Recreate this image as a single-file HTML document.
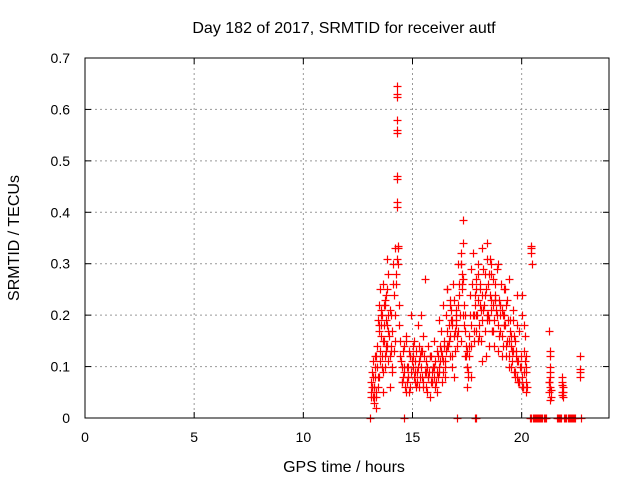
<!DOCTYPE html>
<html><head><meta charset="utf-8"><style>
body{margin:0;background:#fff}
svg{display:block;font-family:"Liberation Sans",sans-serif}
</style></head><body>
<svg id="chart" width="640" height="480"></svg>
<script>
const xTicks=[0,5,10,15,20];
const yTicks=[0,0.1,0.2,0.3,0.4,0.5,0.6,0.7];
const yTickLabels=["0","0.1","0.2","0.3","0.4","0.5","0.6","0.7"];
const hours=[
13.10,13.12,13.15,13.18,13.2,13.22,13.25,13.28,13.3,13.32,13.35,13.38,13.4,13.42,13.45,13.48,13.5,13.52,13.55,13.58,13.6,13.62,13.65,13.68,13.7,13.72,13.75,13.78,13.8,13.82,13.85,13.88,13.9,13.95,14.0,14.05,14.1,14.15,14.2,
14.27,14.27,14.28,14.28,14.27,14.28,14.29,14.3,14.28,14.27,14.35,14.34,14.3,14.32,14.25,14.22,14.38,14.4,14.42,14.45,14.5,14.55,14.6,14.65,14.7,14.75,14.8,14.85,14.9,14.95,
15.0,15.05,15.1,15.15,15.2,15.25,15.3,15.35,15.4,15.45,15.5,15.55,15.6,15.65,15.7,15.75,15.8,15.85,15.9,15.95,16.0,16.05,16.1,16.15,16.2,16.25,16.3,16.35,16.4,16.45,16.5,16.55,16.6,16.65,16.7,
16.75,16.8,16.85,16.9,16.95,17.0,17.05,17.1,17.15,17.2,17.25,17.3,17.32,17.35,17.4,17.45,17.5,17.55,17.6,17.65,17.7,17.75,17.8,17.85,17.9,17.95,18.0,18.05,18.1,18.15,18.2,18.25,18.3,18.35,18.4,18.45,18.5,18.55,18.6,18.65,18.7,18.75,18.8,18.85,18.9,18.95,19.0,19.05,19.1,19.15,19.2,19.25,19.3,19.35,19.4,19.45,19.5,19.55,19.6,19.65,19.7,19.75,19.8,19.85,19.9,19.95,20.0,20.05,20.1,20.15,20.2,
13.15,13.25,13.35,13.45,13.55,13.65,13.75,13.85,13.95,14.05,14.15,14.5,14.6,14.7,14.8,14.9,15.0,15.1,15.2,15.3,15.4,15.5,15.6,15.7,15.8,15.9,16.0,16.1,16.2,16.3,16.4,16.5,16.6,16.7,16.8,16.9,17.0,17.1,17.2,17.3,17.4,17.5,17.6,17.7,17.8,17.9,18.0,18.1,18.2,18.3,18.4,18.5,18.6,18.7,18.8,18.9,19.0,19.1,19.2,19.3,19.4,19.5,19.6,19.7,19.8,19.9,20.0,20.1,20.2,
16.6,16.7,16.8,17.0,17.2,17.25,17.3,17.4,17.5,17.7,17.9,18.0,18.2,18.4,18.5,18.6,18.8,19.0,19.2,19.4,19.6,19.8,20.0,20.1,20.2,14.0,13.9,13.8,13.7,13.6,
13.12,13.17,13.22,13.27,13.33,13.37,13.43,13.47,13.53,13.57,13.63,13.67,13.73,13.77,13.83,13.87,13.93,13.97,14.03,14.08,14.12,14.18,14.23,14.48,14.53,14.58,14.63,14.68,14.73,14.78,14.83,14.88,14.93,14.98,
15.03,15.08,15.13,15.18,15.23,15.28,15.33,15.38,15.43,15.48,15.53,15.58,15.63,15.68,15.73,15.78,15.83,15.88,15.93,15.98,16.03,16.08,16.13,16.18,16.23,16.28,16.33,16.38,16.43,16.48,16.53,16.58,16.63,16.68,
16.73,16.78,16.83,16.88,16.93,16.98,17.03,17.08,17.13,17.18,17.23,17.28,17.38,17.43,17.48,17.53,17.58,17.63,17.68,17.73,17.78,17.83,17.88,17.93,17.98,18.03,18.08,18.13,18.18,18.23,18.28,18.33,18.38,18.43,18.48,18.53,18.58,18.63,18.68,18.73,18.78,18.83,18.88,18.93,18.98,
19.03,19.08,19.13,19.18,19.23,19.28,19.33,19.38,19.43,19.48,19.53,19.58,19.63,19.68,19.73,19.78,19.83,19.88,19.93,19.98,20.03,20.08,20.13,20.18,20.22,20.25,
20.45,20.45,20.47,20.45,21.25,21.3,21.28,21.32,21.3,21.25,21.35,21.3,21.27,21.85,21.87,21.88,21.9,21.86,22.65,22.67,22.66,22.65,21.28,21.33,21.26,21.31,21.84,21.89,21.87,
13.07,14.59,17.06,17.87,17.92,20.4,20.45,20.5,20.55,20.6,20.65,20.7,20.75,20.8,20.85,20.9,20.95,21.0,21.05,21.1,21.6,21.65,21.7,21.75,21.8,21.95,22.0,22.05,22.1,22.15,22.2,22.25,22.3,22.35,22.4,22.45,22.7];
const tecu=[
0.07,0.05,0.09,0.04,0.11,0.06,0.03,0.08,0.12,0.05,0.02,0.1,0.19,0.06,0.18,0.22,0.13,0.25,0.16,0.21,0.12,0.1,0.26,0.15,0.18,0.12,0.22,0.19,0.14,0.25,0.31,0.17,0.28,0.12,0.2,0.1,0.3,0.24,0.33,
0.645,0.63,0.625,0.58,0.56,0.555,0.47,0.465,0.42,0.41,0.335,0.33,0.31,0.3,0.26,0.2,0.22,0.18,0.15,0.12,0.1,0.08,0.14,0.06,0.16,0.1,0.08,0.05,0.12,0.2,
0.1,0.15,0.07,0.13,0.09,0.18,0.06,0.12,0.2,0.08,0.16,0.27,0.11,0.05,0.14,0.09,0.04,0.12,0.07,0.1,0.15,0.06,0.13,0.08,0.19,0.11,0.17,0.07,0.22,0.14,0.1,0.2,0.25,0.15,0.23,
0.19,0.12,0.26,0.08,0.17,0.21,0.14,0.3,0.24,0.32,0.28,0.385,0.34,0.22,0.2,0.12,0.06,0.09,0.16,0.24,0.18,0.32,0.15,0.22,0.27,0.2,0.3,0.18,0.25,0.15,0.33,0.21,0.28,0.12,0.34,0.26,0.19,0.31,0.23,0.17,0.27,0.14,0.24,0.2,0.3,0.16,0.22,0.26,0.12,0.2,0.18,0.25,0.14,0.23,0.1,0.19,0.16,0.13,0.21,0.09,0.15,0.12,0.24,0.07,0.17,0.1,0.2,0.06,0.13,0.16,0.09,
0.06,0.04,0.12,0.08,0.18,0.05,0.1,0.14,0.06,0.09,0.13,0.07,0.1,0.05,0.08,0.12,0.14,0.09,0.07,0.11,0.13,0.06,0.09,0.08,0.12,0.07,0.1,0.05,0.09,0.13,0.11,0.08,0.14,0.12,0.1,0.16,0.2,0.17,0.15,0.2,0.12,0.1,0.14,0.08,0.2,0.17,0.15,0.22,0.11,0.24,0.19,0.14,0.21,0.17,0.23,0.13,0.2,0.16,0.18,0.12,0.15,0.1,0.13,0.08,0.11,0.07,0.06,0.09,0.05,
0.25,0.22,0.19,0.18,0.3,0.26,0.27,0.17,0.13,0.29,0.25,0.28,0.24,0.2,0.28,0.3,0.23,0.22,0.2,0.27,0.19,0.18,0.24,0.18,0.12,0.14,0.2,0.24,0.22,0.2,
0.04,0.08,0.06,0.1,0.04,0.14,0.08,0.17,0.11,0.2,0.15,0.09,0.23,0.13,0.18,0.11,0.16,0.21,0.13,0.17,0.26,0.15,0.28,0.11,0.07,0.13,0.09,0.15,0.07,0.1,0.13,0.06,0.09,0.11,
0.12,0.08,0.11,0.06,0.1,0.14,0.08,0.1,0.13,0.07,0.12,0.09,0.06,0.1,0.08,0.12,0.07,0.09,0.1,0.08,0.11,0.07,0.09,0.12,0.1,0.14,0.12,0.09,0.15,0.11,0.13,0.17,0.14,0.18,
0.16,0.21,0.18,0.23,0.13,0.19,0.16,0.22,0.26,0.2,0.3,0.25,0.18,0.14,0.1,0.08,0.12,0.2,0.14,0.26,0.2,0.17,0.24,0.2,0.23,0.16,0.26,0.21,0.19,0.29,0.22,0.17,0.25,0.31,0.2,0.24,0.28,0.17,0.22,0.19,0.26,0.21,0.29,0.18,0.23,
0.17,0.21,0.14,0.25,0.18,0.22,0.15,0.19,0.12,0.17,0.14,0.11,0.16,0.09,0.13,0.08,0.11,0.07,0.1,0.12,0.08,0.06,0.11,0.07,0.1,0.06,
0.335,0.32,0.3,0.33,0.17,0.13,0.12,0.08,0.06,0.05,0.04,0.1,0.07,0.07,0.05,0.06,0.04,0.08,0.12,0.095,0.08,0.09,0.09,0.055,0.07,0.035,0.065,0.05,0.045,
0,0,0,0,0,0,0,0,0,0,0,0,0,0,0,0,0,0,0,0,0,0,0,0,0,0,0,0,0,0,0,0,0,0,0,0,0];
const X0=85,X1=609,Y0=418,Y1=58;
const xs=h=>X0+h*(X1-X0)/24;
const ys=v=>Y0-v*(Y0-Y1)/0.7;
const svg=document.getElementById('chart');
const NS='http://www.w3.org/2000/svg';
function mk(t,a){const e=document.createElementNS(NS,t);for(const k in a)e.setAttribute(k,a[k]);svg.appendChild(e);return e;}
xTicks.forEach(t=>{if(t>0){const g=mk('line',{x1:xs(t),x2:xs(t),y1:Y1,y2:Y0,stroke:'#999','stroke-dasharray':'2,3'});

}});
yTicks.forEach(t=>{if(t>0&&t<0.7){const g=mk('line',{x1:X0,x2:X1,y1:ys(t),y2:ys(t),stroke:'#999','stroke-dasharray':'2,3'});

}});
xTicks.forEach(t=>{mk('line',{x1:xs(t),x2:xs(t),y1:Y0,y2:Y0-6,stroke:'#000'});mk('line',{x1:xs(t),x2:xs(t),y1:Y1,y2:Y1+6,stroke:'#000'});
const l=mk('text',{x:xs(t),y:Y0+24,'text-anchor':'middle','font-size':14});l.textContent=t;

});
yTicks.forEach((t,i)=>{mk('line',{x1:X0,x2:X0+6,y1:ys(t),y2:ys(t),stroke:'#000'});mk('line',{x1:X1,x2:X1-6,y1:ys(t),y2:ys(t),stroke:'#000'});
const l=mk('text',{x:X0-15,y:ys(t)+5,'text-anchor':'end','font-size':14});l.textContent=yTickLabels[i];

});
const g=mk('g',{stroke:'#f00','stroke-width':1.2});


hours.forEach((h,i)=>{const x=Math.round(xs(h))+0.5,y=Math.round(ys(tecu[i]))+0.5;
const p=document.createElementNS(NS,'path');p.setAttribute('d',`M${x-4},${y}H${x+4}M${x},${y-4}V${y+4}`);


g.appendChild(p);});
const f=mk('rect',{x:X0,y:Y1,width:X1-X0,height:Y0-Y1,fill:'none',stroke:'#000'});


const ti=mk('text',{x:344,y:33,'text-anchor':'middle','font-size':16});ti.textContent='Day 182 of 2017, SRMTID for receiver autf';


const xt=mk('text',{x:344,y:472,'text-anchor':'middle','font-size':16});xt.textContent='GPS time / hours';


const yt=mk('text',{x:19,y:238,'text-anchor':'middle','font-size':16,transform:'rotate(-90 19 238)'});yt.textContent='SRMTID / TECUs';


</script>
</body></html>
